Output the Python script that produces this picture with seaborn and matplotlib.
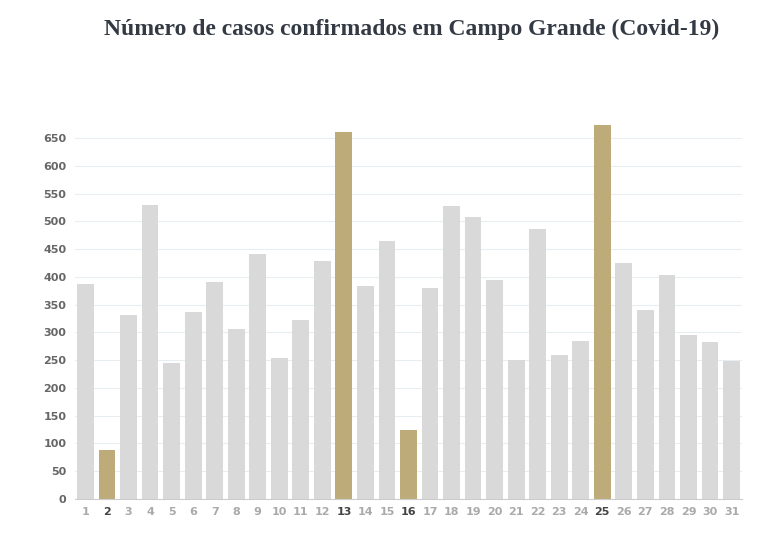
import matplotlib
matplotlib.use("Agg")
import matplotlib.pyplot as plt
import seaborn as sns
import pandas as pd

days = [str(d) for d in range(1, 32)]
cases = [387, 88, 331, 529, 245, 337, 391, 306, 441, 254, 322, 428, 661, 384, 464, 124,
         380, 528, 508, 394, 250, 486, 259, 284, 673, 425, 340, 403, 295, 283, 248]
highlight = ["2", "13", "16", "25"]

df = pd.DataFrame({"dia": days, "casos": cases})
df["destaque"] = df["dia"].isin(highlight)

fig = plt.figure(figsize=(7.7, 5.37), dpi=100)
ax = fig.add_axes([0.097, 0.071, 0.867, 0.713])

palette = {True: "#c8b06e", False: "#d9d9d9"}
sns.barplot(data=df, x="dia", y="casos", hue="destaque", palette=palette,
            dodge=False, legend=False, width=0.78, ax=ax, zorder=2)

ax.set_ylim(0, 690)
ax.set_yticks(range(0, 651, 50))
ax.grid(axis="y", color="#e8edf2", linewidth=0.8, zorder=0)
ax.set_axisbelow(True)
for s in ["top", "right", "left"]:
    ax.spines[s].set_visible(False)
ax.spines["bottom"].set_color("#cccccc")
ax.tick_params(length=0, labelsize=8, colors="#999999", pad=6)
ax.set_xlabel("")
ax.set_ylabel("")
for lab in ax.get_xticklabels() + ax.get_yticklabels():
    lab.set_fontweight("bold")
    lab.set_color("#666666" if lab in ax.get_yticklabels() else "#aaaaaa")
for lab in ax.get_xticklabels():
    if lab.get_text() in highlight:
        lab.set_color("#444444")

fig.text(0.535, 0.935, "Número de casos confirmados em Campo Grande (Covid-19)",
         ha="center", fontsize=17, fontweight="bold", family="Liberation Serif",
         color="#333a44")

fig.savefig("out.png", dpi=100)
